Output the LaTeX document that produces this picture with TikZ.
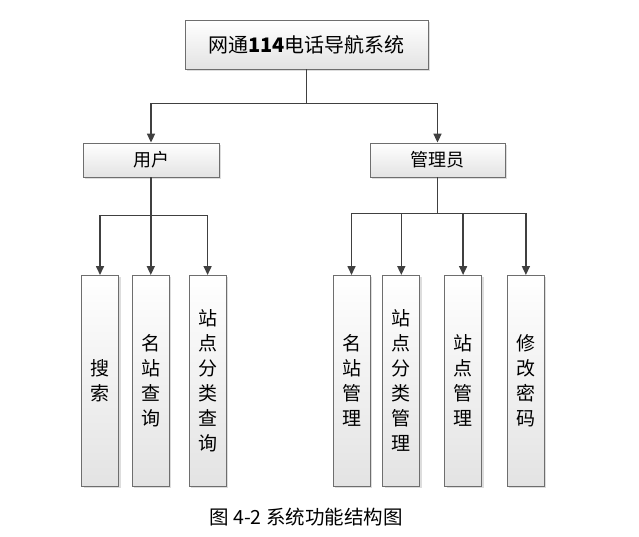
\documentclass[tikz,border=0pt]{standalone}
\usepackage{fontspec}
\setmainfont{Noto Sans CJK SC}
\usepackage{tikz}
\usetikzlibrary{arrows.meta, positioning, shadows}
\definecolor{colLine}{RGB}{64,64,64}
\definecolor{colBorder}{RGB}{110,110,110}

\begin{document}
\begin{tikzpicture}[
  x=1pt, y=1pt,
  node distance=13pt and 13pt,
  box/.style={draw=colBorder, line width=0.8pt, top color=white, bottom color=gray!22,
              drop shadow={shadow xshift=2pt, shadow yshift=-2pt, fill=gray!45, opacity=0.6},
              minimum width=#1, inner sep=0pt, align=center},
  leaf/.style={box=37pt, minimum height=211pt, anchor=north,
               font=\fontsize{19}{25}\selectfont},
  arr/.style={-{Triangle[length=9pt, width=8pt]}, line width=1.6pt, colLine},
]
\useasboundingbox (0,0) rectangle (639,-536);

% ─── TOP ──────────────────────────────────────────────────────────────────────
\node[box=243pt, minimum height=49pt, font=\fontsize{20}{24}\selectfont] (sys) at (306.5,-44.5)
  {网通{\bfseries 114}电话导航系统};

% ─── ROLES ────────────────────────────────────────────────────────────────────
\node[box=136pt, minimum height=34pt, font=\fontsize{18}{22}\selectfont] (user)  at (151,-160)   {用户};
\node[box=135pt, minimum height=34pt, font=\fontsize{18}{22}\selectfont] (admin) at (437.5,-160) {管理员};

\draw[arr] (sys.south) -- ++(0,-34) -| (user.north);
\draw[arr] (sys.south) -- ++(0,-34) -| (admin.north);

% ─── USER FUNCTIONS ───────────────────────────────────────────────────────────
\node[leaf] (search) at (100,-275) {搜\\索};
\node[leaf, right=13pt of search] (byname) {名\\站\\查\\询};
\node[leaf, right=19pt of byname] (bycat)  {站\\点\\分\\类\\查\\询};

\foreach \leaf in {search,byname,bycat}
  \draw[arr] (user.south) -- ++(0,-38) -| (\leaf.north);

% ─── ADMIN FUNCTIONS ──────────────────────────────────────────────────────────
\node[leaf] (mgname) at (351.5,-275) {名\\站\\管\\理};
\node[leaf, right=12pt of mgname] (mgcat)  {站\\点\\分\\类\\管\\理};
\node[leaf, right=24pt of mgcat]  (mgsite) {站\\点\\管\\理};
\node[leaf, right=25pt of mgsite] (passwd) {修\\改\\密\\码};

\foreach \leaf in {mgname,mgcat,mgsite,passwd}
  \draw[arr] (admin.south) -- ++(0,-36) -| (\leaf.north);

% ─── CAPTION ──────────────────────────────────────────────────────────────────
\node[font=\fontsize{19.5}{22}\selectfont] (caption) at (306,-517) {图 4-2 系统功能结构图};

\end{tikzpicture}
\end{document}
